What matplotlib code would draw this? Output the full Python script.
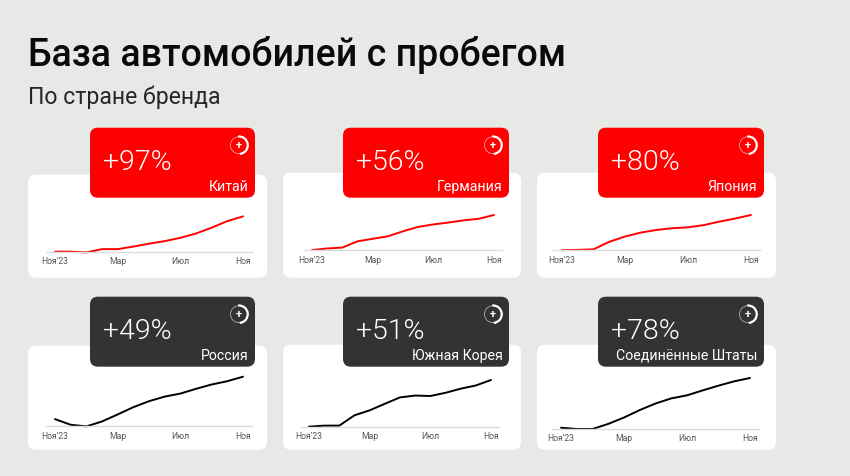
import matplotlib
matplotlib.use("Agg")
import matplotlib.pyplot as plt
from matplotlib.patches import FancyBboxPatch, Arc, Circle

W, H = 850, 477
BG = "#e6e9e6"
RED = "#ff0000"
DARK = "#333333"
SHIFT = 0.7

title = "База автомобилей с пробегом"
subtitle = "По стране бренда"
months = ["Ноя'23", "Дек", "Янв", "Фев", "Мар", "Апр", "Май", "Июн", "Июл", "Авг", "Сен", "Окт", "Ноя"]
tick_idx = [0, 4, 8, 12]

countries = ["Китай", "Германия", "Япония", "Россия", "Южная Корея", "Соединённые Штаты"]
growth = ["+97%", "+56%", "+80%", "+49%", "+51%", "+78%"]

china = [0, 0, -2, 7, 7, 14, 22, 29, 38, 50, 66, 84, 97]
germany = [0, 2.6, 4, 14, 18, 22, 30, 37, 41, 44, 47.5, 50, 56]
japan = [0, 0.7, 2, 19, 31, 40, 46, 50, 52, 57, 65, 72, 80]
russia = [0, -6.5, -8.4, -2.7, 5.4, 13.8, 20.7, 26, 29.5, 35, 40, 43.8, 49]
korea = [0, 1.1, 1.1, 12.4, 17.8, 25, 32, 34, 33.5, 37, 41.5, 45, 51]
usa = [0, -2, -2, 6, 16, 27.7, 38, 46, 50.8, 58.6, 66, 72.8, 78]
series = [china, germany, japan, russia, korea, usa]

# layout in pixels: card box, badge box, baseline span and line span
cards = [(28, 175, 267, 278), (283, 173, 521, 278), (537, 173, 776, 278),
         (28, 346, 267, 450), (283, 345, 521, 450), (537, 345, 776, 450)]
badges = [(90, 128, 255, 198), (343, 128, 509, 198), (598, 128, 764, 198),
          (90, 297, 255, 367), (343, 297, 509, 367), (598, 297, 764, 367)]
base_y = [252.3, 250.7, 250.7, 426.7, 427.3, 429.3]
top_y = [216.7, 215.3, 215.3, 377, 380.3, 378.3]
base_x = [(46, 252), (304, 502), (553, 760), (46, 252), (301, 499), (552, 759)]
line_x = [(55, 243), (312, 494), (562, 751), (55, 243), (309, 491), (561, 750)]
y_low = [-0.9, -0.5, -0.5, -8.4, -0.4, -2]
colors = [RED, RED, RED, "#000000", "#000000", "#000000"]
badge_colors = [RED, RED, RED, DARK, DARK, DARK]

plt.rcParams["font.family"] = ["Roboto", "Noto Sans", "DejaVu Sans"]

fig = plt.figure(figsize=(W / 100, H / 100), dpi=100, facecolor=BG)
bg = fig.add_axes([0, 0, 1, 1], zorder=0)
bg.set_xlim(0, W)
bg.set_ylim(H - SHIFT, -SHIFT)
bg.axis("off")


def rbox(ax, box, color, r, z):
    x0, y0, x1, y1 = box
    ax.add_patch(FancyBboxPatch((x0 + r, y0 + r), x1 - x0 - 2 * r, y1 - y0 - 2 * r,
                                boxstyle=f"round,pad={r},rounding_size={r}",
                                fc=color, ec="none", zorder=z))


bg.text(28, 54.5, title, fontsize=27, fontweight=500, color="#0a0a0a", va="center", ha="left")
bg.text(28.5, 97, subtitle, fontsize=16.6, color="#262626", va="center", ha="left")

for i in range(6):
    rbox(bg, cards[i], "#ffffff", 8, 1)
    rbox(bg, badges[i], badge_colors[i], 8, 2)
    bx0, by0, bx1, by1 = badges[i]
    bg.text(bx0 + 13.5, by0 + 34, growth[i], color="white", fontsize=20.5, fontweight=300,
            va="center", ha="left", zorder=3)
    bg.text(bx1 - 6.5, by0 + 58, countries[i], color="white", fontsize=10.2,
            va="center", ha="right", zorder=3)
    cx, cy = bx1 - 16, by0 + 17.5
    bg.add_patch(Circle((cx, cy), 8.5, fc="none", ec="white", lw=0.5, alpha=0.7, zorder=3))
    bg.add_patch(Arc((cx, cy), 17.5, 17.5, theta1=-95, theta2=85, ec="white", lw=1.6, zorder=3))
    bg.text(cx, cy, "+", color="white", fontsize=8, fontweight=700, va="center", ha="center", zorder=4)

    # chart
    x0, x1 = base_x[i]
    ax = fig.add_axes([x0 / W, 1 - (base_y[i] + SHIFT) / H, (x1 - x0) / W, (base_y[i] - top_y[i]) / H], zorder=2)
    ax.patch.set_alpha(0)
    lx0, lx1 = line_x[i]
    step = (lx1 - lx0) / 12
    ax.set_xlim((x0 - lx0) / step, (x1 - lx0) / step)
    ax.set_ylim(y_low[i], series[i][-1])
    ax.plot(range(13), series[i], color=colors[i], lw=1.4, clip_on=False,
            solid_capstyle="round", solid_joinstyle="round")
    for s in ["top", "left", "right"]:
        ax.spines[s].set_visible(False)
    ax.spines["bottom"].set_color("#dcdcdc")
    ax.spines["bottom"].set_linewidth(1.0)
    ax.set_yticks([])
    ax.set_xticks(tick_idx)
    ax.set_xticklabels([months[t] for t in tick_idx], fontsize=6.2, color="#555555")
    ax.tick_params(axis="x", length=0, pad=3.2)

fig.savefig("out.png", dpi=100, facecolor=BG)
